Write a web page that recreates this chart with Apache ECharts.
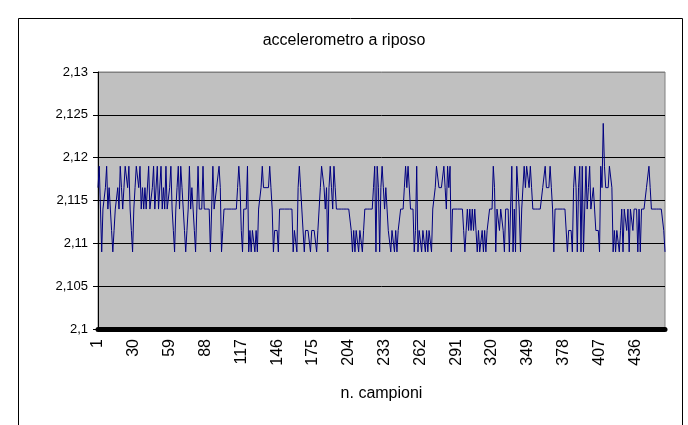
<!DOCTYPE html>
<html>
<head>
<meta charset="utf-8">
<script src="https://cdn.jsdelivr.net/npm/echarts@6/dist/echarts.min.js"></script>
<style>
  html, body { margin: 0; padding: 0; background: #ffffff; }
  #chart { width: 688px; height: 425px; }
</style>
</head>
<body>
<div id="chart"></div>
<script>
// Accelerometer readings at rest, one value per sample
const samples = [
  // 1-90
  2.1165, 2.119, 2.114, 2.109, 2.114, 2.114, 2.1165, 2.119, 2.114, 2.1165,
  2.114, 2.1115, 2.109, 2.1115, 2.114, 2.114, 2.1165, 2.114, 2.119, 2.1165,
  2.114, 2.1165, 2.119, 2.119, 2.1165, 2.119, 2.114, 2.1115, 2.109, 2.114,
  2.1165, 2.119, 2.119, 2.1165, 2.119, 2.114, 2.1165, 2.114, 2.1165, 2.114,
  2.114, 2.119, 2.114, 2.114, 2.1165, 2.119, 2.114, 2.114, 2.119, 2.114,
  2.114, 2.119, 2.114, 2.1165, 2.114, 2.119, 2.114, 2.114, 2.1165, 2.119,
  2.114, 2.1115, 2.109, 2.114, 2.1165, 2.119, 2.114, 2.119, 2.1165, 2.114,
  2.1115, 2.109, 2.1115, 2.114, 2.119, 2.114, 2.1165, 2.114, 2.1115, 2.109,
  2.114, 2.119, 2.114, 2.114, 2.114, 2.119, 2.114, 2.114, 2.114, 2.114,
  // 91-180
  2.114, 2.109, 2.114, 2.119, 2.114, 2.114, 2.1165, 2.1165, 2.119, 2.1165,
  2.109, 2.1115, 2.114, 2.114, 2.114, 2.114, 2.114, 2.114, 2.114, 2.114,
  2.114, 2.114, 2.114, 2.1165, 2.119, 2.1165, 2.1115, 2.109, 2.114, 2.114,
  2.114, 2.119, 2.109, 2.1115, 2.109, 2.1115, 2.1115, 2.109, 2.1115, 2.109,
  2.114, 2.114, 2.1165, 2.119, 2.1165, 2.1165, 2.1165, 2.1165, 2.1165, 2.119,
  2.1165, 2.114, 2.109, 2.1115, 2.1115, 2.1115, 2.109, 2.114, 2.114, 2.114,
  2.114, 2.114, 2.114, 2.114, 2.114, 2.114, 2.114, 2.114, 2.109, 2.1115,
  2.1115, 2.109, 2.1165, 2.119, 2.1165, 2.114, 2.114, 2.109, 2.1115, 2.1115,
  2.1115, 2.1115, 2.109, 2.1115, 2.1115, 2.1115, 2.1115, 2.109, 2.1115, 2.1115,
  // 181-270
  2.1165, 2.119, 2.119, 2.1165, 2.114, 2.1165, 2.109, 2.1165, 2.119, 2.1165,
  2.114, 2.119, 2.1165, 2.114, 2.114, 2.114, 2.114, 2.114, 2.114, 2.114,
  2.114, 2.114, 2.114, 2.114, 2.114, 2.1115, 2.109, 2.1115, 2.109, 2.1115,
  2.1115, 2.109, 2.1115, 2.1115, 2.109, 2.1115, 2.114, 2.114, 2.114, 2.114,
  2.114, 2.114, 2.114, 2.1165, 2.119, 2.109, 2.119, 2.1165, 2.109, 2.1165,
  2.119, 2.1165, 2.114, 2.1165, 2.114, 2.1115, 2.1115, 2.109, 2.1115, 2.1115,
  2.109, 2.1115, 2.109, 2.1115, 2.1115, 2.114, 2.114, 2.114, 2.1165, 2.119,
  2.1165, 2.119, 2.119, 2.114, 2.114, 2.114, 2.109, 2.1115, 2.119, 2.109,
  2.1115, 2.1115, 2.109, 2.1115, 2.1115, 2.109, 2.1115, 2.109, 2.1115, 2.1115,
  // 271-360
  2.109, 2.114, 2.114, 2.1165, 2.119, 2.119, 2.1165, 2.1165, 2.1165, 2.1165,
  2.119, 2.1165, 2.114, 2.119, 2.1165, 2.119, 2.109, 2.114, 2.114, 2.114,
  2.114, 2.114, 2.114, 2.114, 2.114, 2.114, 2.1115, 2.109, 2.1115, 2.114,
  2.1115, 2.114, 2.1115, 2.114, 2.1115, 2.114, 2.1115, 2.109, 2.1115, 2.109,
  2.109, 2.1115, 2.109, 2.1115, 2.109, 2.1115, 2.1115, 2.114, 2.114, 2.114,
  2.119, 2.1165, 2.109, 2.114, 2.114, 2.1115, 2.114, 2.114, 2.1115, 2.109,
  2.114, 2.114, 2.114, 2.109, 2.114, 2.119, 2.109, 2.114, 2.109, 2.119,
  2.1165, 2.114, 2.109, 2.114, 2.114, 2.119, 2.1165, 2.119, 2.119, 2.1165,
  2.119, 2.1165, 2.114, 2.114, 2.114, 2.114, 2.114, 2.114, 2.114, 2.114,
  // 361-460
  2.1165, 2.1165, 2.119, 2.1165, 2.1165, 2.1165, 2.119, 2.1165, 2.114, 2.109,
  2.114, 2.114, 2.114, 2.114, 2.114, 2.114, 2.114, 2.114, 2.114, 2.114,
  2.109, 2.1115, 2.1115, 2.1115, 2.109, 2.1165, 2.119, 2.1165, 2.109, 2.1165,
  2.119, 2.109, 2.119, 2.109, 2.109, 2.119, 2.114, 2.1165, 2.119, 2.114,
  2.114, 2.1165, 2.114, 2.1115, 2.1115, 2.1115, 2.109, 2.119, 2.1165, 2.124,
  2.119, 2.1165, 2.1165, 2.1165, 2.119, 2.119, 2.1165, 2.109, 2.1115, 2.109,
  2.1115, 2.1115, 2.109, 2.1115, 2.114, 2.109, 2.114, 2.114, 2.1115, 2.114,
  2.109, 2.114, 2.114, 2.1115, 2.114, 2.114, 2.114, 2.109, 2.114, 2.109,
  2.114, 2.114, 2.114, 2.114, 2.1165, 2.1165, 2.119, 2.1165, 2.114, 2.114,
  2.114, 2.114, 2.114, 2.114, 2.114, 2.114, 2.114, 2.114, 2.1115, 2.109
];

// Sample numbers used as category labels
const sampleNumbers = samples.map((_, i) => String(i + 1));

const chartTitle = 'accelerometro a riposo';
const xAxisName = 'n. campioni';

const yMin = 2.1;
const yMax = 2.13;
const yStep = 0.005;

const font = 'Arial, "Liberation Sans", sans-serif';

const chart = echarts.init(document.getElementById('chart'), null, { renderer: 'canvas' });

chart.setOption({
  animation: false,
  backgroundColor: '#ffffff',
  title: {
    text: chartTitle,
    left: 'center',
    top: 28,
    textStyle: { fontFamily: font, fontSize: 16, fontWeight: 'normal', color: '#000000' }
  },
  graphic: [{
    type: 'rect',
    shape: { x: 18.5, y: 18.5, width: 664, height: 430 },
    style: { fill: null, stroke: '#000000', lineWidth: 1 },
    silent: true,
    z: -1
  }],
  grid: {
    left: 98,
    right: 23,
    top: 72,
    bottom: 96,
    show: true,
    backgroundColor: '#c0c0c0',
    borderColor: '#808080',
    borderWidth: 1
  },
  xAxis: {
    type: 'category',
    data: sampleNumbers,
    boundaryGap: false,
    name: xAxisName,
    nameLocation: 'middle',
    nameGap: 57,
    nameTextStyle: { fontFamily: font, fontSize: 16, color: '#000000' },
    axisLine: { lineStyle: { color: '#000000', width: 5 } },
    axisTick: { show: false },
    axisLabel: {
      interval: 28,
      rotate: 90,
      margin: 10,
      fontFamily: font,
      fontSize: 16,
      color: '#000000'
    },
    splitLine: { show: false }
  },
  yAxis: {
    type: 'value',
    min: yMin,
    max: yMax,
    interval: yStep,
    axisLine: { show: true, lineStyle: { color: '#000000', width: 1 } },
    axisTick: { show: true, length: 5, lineStyle: { color: '#000000' } },
    axisLabel: {
      margin: 10,
      fontFamily: font,
      fontSize: 13,
      color: '#000000',
      formatter: v => String(Number(v.toFixed(3))).replace('.', ',')
    },
    splitLine: {
      show: true,
      lineStyle: {
        color: ['#000000', '#000000', '#000000', '#000000', '#000000', '#000000', '#808080'],
        width: 1
      }
    }
  },
  series: [{
    type: 'line',
    data: samples,
    showSymbol: false,
    symbol: 'none',
    lineStyle: { color: '#000080', width: 1 },
    itemStyle: { color: '#000080' }
  }]
});
</script>
</body>
</html>
